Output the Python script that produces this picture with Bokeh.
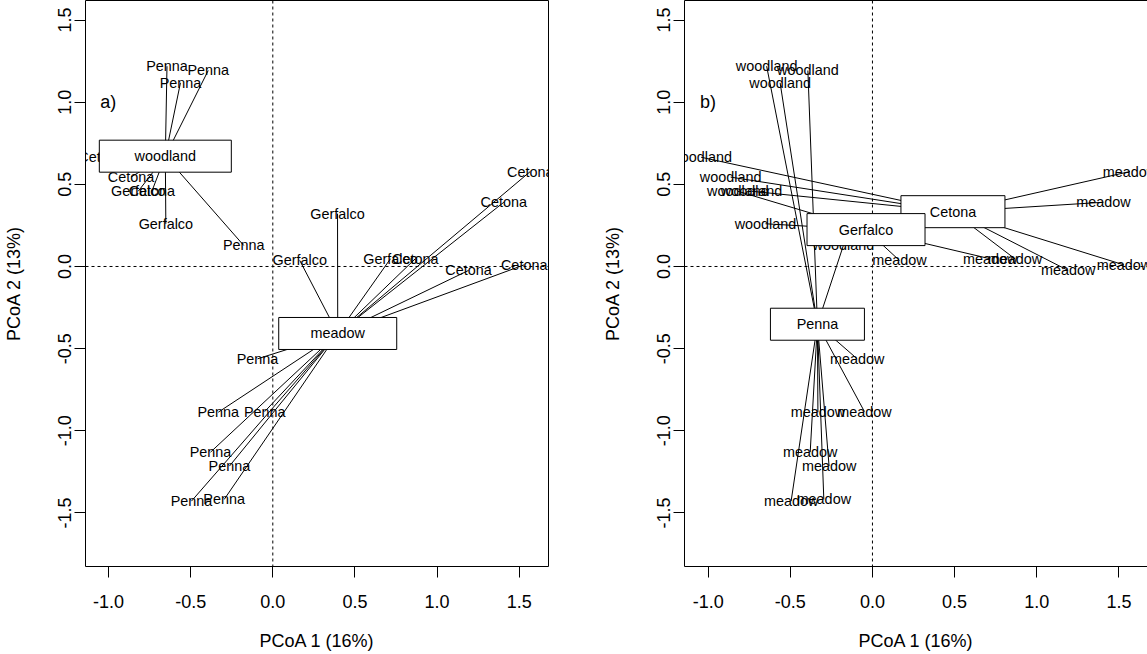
import numpy as np
import pandas as pd
from bokeh.plotting import figure
from bokeh.layouts import row
from bokeh.models import ColumnDataSource, Span, FixedTicker, Range1d, Label
from bokeh.core.properties import value
from bokeh.embed import file_html
from bokeh.resources import INLINE

# ---------------- data ----------------
site = ["Penna", "Penna", "Penna", "Penna", "Cetona", "Cetona", "Cetona", "Gerfalco", "Gerfalco",
        "Cetona", "Cetona", "Cetona", "Cetona", "Cetona", "Gerfalco", "Gerfalco", "Gerfalco",
        "Penna", "Penna", "Penna", "Penna", "Penna", "Penna", "Penna"]
habitat = ["woodland"] * 9 + ["meadow"] * 15
pcoa1 = [-0.644, -0.393, -0.562, -0.177, -1.043, -0.863, -0.736, -0.819, -0.651,
         1.567, 1.406, 0.867, 1.191, 1.530, 0.394, 0.164, 0.716,
         -0.093, -0.332, -0.049, -0.379, -0.264, -0.495, -0.296]
pcoa2 = [1.219, 1.193, 1.118, 0.128, 0.665, 0.544, 0.458, 0.458, 0.260,
         0.578, 0.391, 0.047, -0.024, 0.010, 0.321, 0.037, 0.047,
         -0.562, -0.887, -0.883, -1.130, -1.215, -1.428, -1.418]

x_ticks = [-1.0, -0.5, 0.0, 0.5, 1.0, 1.5]
x_tick_labels = ["-1.0", "-0.5", "0.0", "0.5", "1.0", "1.5"]
y_ticks = [-1.5, -1.0, -0.5, 0.0, 0.5, 1.0, 1.5]
y_tick_labels = ["-1.5", "-1.0", "-0.5", "0.0", "0.5", "1.0", "1.5"]
x_title = "PCoA 1 (16%)"
y_title = "PCoA 2 (13%)"

# ---------------- style ----------------
FONT = "Liberation Sans"
BOX_W = {"woodland": 132, "meadow": 118, "Cetona": 104, "Gerfalco": 118, "Penna": 94}
BOX_H = 32

df = pd.DataFrame({"site": site, "habitat": habitat, "x": pcoa1, "y": pcoa2})


def panel(label_col, group_col, tag, x_range, mbl, fw, mbr):
    p = figure(frame_width=fw, frame_height=566,
               min_border_left=mbl, min_border_right=mbr,
               min_border_top=0, min_border_bottom=88,
               x_range=Range1d(*x_range), y_range=Range1d(-1.826, 1.619),
               output_backend="svg", toolbar_location=None)
    p.background_fill_color = "white"
    p.border_fill_color = "white"
    p.outline_line_color = "black"
    p.outline_line_width = 1
    p.xgrid.visible = False
    p.ygrid.visible = False

    for ax in (p.xaxis[0], p.yaxis[0]):
        ax.axis_line_color = None
        ax.major_tick_line_color = "black"
        ax.major_tick_out = 11
        ax.major_tick_in = 0
        ax.minor_tick_line_color = None
        ax.major_label_text_font = FONT
        ax.major_label_text_font_size = "18px"
        ax.major_label_text_color = "black"
        ax.axis_label_text_font = FONT
        ax.axis_label_text_font_size = "18px"
        ax.axis_label_text_font_style = "normal"
        ax.axis_label_text_color = "black"
    p.xaxis.ticker = FixedTicker(ticks=x_ticks)
    p.xaxis.major_label_overrides = dict(zip(x_ticks, x_tick_labels))
    p.yaxis.ticker = FixedTicker(ticks=y_ticks)
    p.yaxis.major_label_overrides = dict(zip(y_ticks, y_tick_labels))
    p.yaxis.major_label_orientation = "vertical"
    p.xaxis.axis_label = x_title
    p.yaxis.axis_label = y_title
    p.xaxis.major_label_standoff = 17
    p.xaxis.axis_label_standoff = 20
    p.yaxis.major_label_standoff = 3
    p.yaxis.axis_label_standoff = 32

    p.add_layout(Span(location=0, dimension="height", line_color="black",
                      line_width=1, line_dash="3 3", level="underlay"))
    p.add_layout(Span(location=0, dimension="width", line_color="black",
                      line_width=1, line_dash="3 3", level="underlay"))

    d = df.copy()
    d["cx"] = d.groupby(group_col)["x"].transform("mean")
    d["cy"] = d.groupby(group_col)["y"].transform("mean")
    src = ColumnDataSource(d)
    p.segment(x0="cx", y0="cy", x1="x", y1="y", source=src,
              line_color="black", line_width=1)
    p.text(x="x", y="y", text=label_col, source=src,
           text_align="center", text_baseline="middle",
           text_font=value(FONT), text_font_size=value("14.4px"),
           text_color="black")

    cen = d.groupby(group_col)[["x", "y"]].mean()
    for g in sorted(cen.index):
        csrc = ColumnDataSource(dict(x=[cen.loc[g, "x"]], y=[cen.loc[g, "y"]], t=[g]))
        p.rect(x="x", y="y", width=BOX_W[g], height=BOX_H, source=csrc,
               width_units="screen", height_units="screen",
               fill_color="white", line_color="black", line_width=1)
        p.text(x="x", y="y", text="t", source=csrc,
               text_align="center", text_baseline="middle",
               text_font=value(FONT), text_font_size=value("14.4px"),
               text_color="black")

    p.add_layout(Label(x=-1.05, y=1.0, text=tag, text_align="left",
                       text_baseline="middle", text_font=FONT,
                       text_font_size="18px", text_color="black"))
    return p


p1 = panel("site", "habitat", "a)", (-1.140, 1.678), 84, 463, 50)
p2 = panel("habitat", "site", "b)", (-1.144, 1.674), 86, 463, 1)

layout = row(p1, p2)
open("out.html", "w").write(file_html(layout, INLINE))
